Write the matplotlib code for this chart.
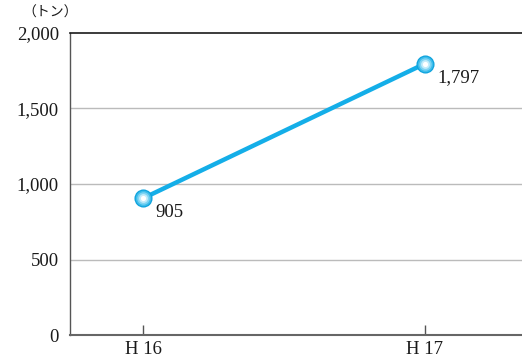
import matplotlib
matplotlib.use("Agg")
import matplotlib.pyplot as plt

categories = ["H 16", "H 17"]
values = [905, 1797]
value_labels = ["905", "1,797"]
yticks = [0, 500, 1000, 1500, 2000]
ytick_labels = ["0", "500", "1,000", "1,500", "2,000"]

plt.rcParams['font.family'] = ['Liberation Serif', 'DejaVu Serif']

fig = plt.figure(figsize=(5.22, 3.61), dpi=100)
ax = fig.add_axes([0.134, 0.072, 0.866, 0.8366])

x = list(range(len(categories)))
line_color = "#14AEE8"
ax.plot(x, values, color=line_color, lw=3.2, solid_capstyle="round", zorder=3)
# marker with pseudo-gradient
ax.scatter(x, values, s=170, color="#0FA3DD", zorder=4, linewidths=0)
ax.scatter(x, values, s=125, color="#3EBDEB", zorder=5, linewidths=0)
ax.scatter(x, values, s=80, color="#7FD4F3", zorder=6, linewidths=0)
ax.scatter(x, values, s=40, color="#C4ECFA", zorder=7, linewidths=0)
ax.scatter(x, values, s=14, color="#FFFFFF", zorder=8, linewidths=0)

for xi, v, lab in zip(x, values, value_labels):
    ax.annotate(lab, (xi, v), xytext=(9, -10), textcoords="offset points",
                ha="left", va="center", fontsize=13.5, color="#1a1a1a", zorder=9)

ax.set_xlim(-0.259, 1.344)
ax.set_ylim(0, 2000)
ax.set_yticks(yticks)
ax.set_yticklabels(ytick_labels)
ax.set_xticks(x)
ax.set_xticklabels(categories)
ax.tick_params(axis="y", length=0, pad=8, labelsize=13.5, labelcolor="#1a1a1a")
ax.tick_params(axis="x", direction="in", length=7, width=1, color="#555555",
               pad=4, labelsize=13.5, labelcolor="#1a1a1a")
for y in yticks[1:-1]:
    ax.axhline(y, color="#BBBBBB", lw=1, zorder=1)
ax.spines["right"].set_visible(False)
ax.spines["top"].set_color("#1a1a1a")
ax.spines["top"].set_linewidth(1.2)
ax.spines["left"].set_color("#555555")
ax.spines["left"].set_linewidth(1.0)
ax.spines["bottom"].set_color("#666666")
ax.spines["bottom"].set_linewidth(1.5)

fig.text(0.042, 0.965, "（トン）", fontsize=10, ha="left", va="center",
         family=["Noto Sans CJK JP", "DejaVu Sans"], color="#1a1a1a")

fig.savefig("out.png", dpi=100)
